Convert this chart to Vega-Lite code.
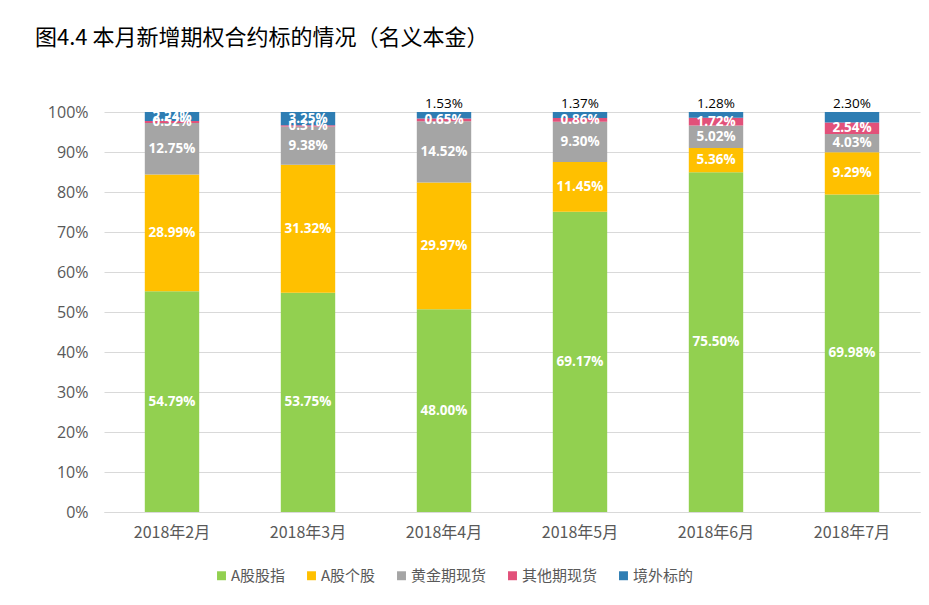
{
  "$schema": "https://vega.github.io/schema/vega-lite/v6.json",
  "width": 816,
  "height": 400,
  "autosize": "none",
  "padding": {"left": 104, "top": 112, "right": 9, "bottom": 93},
  "background": "white",
  "config": {
    "view": {"stroke": null},
    "font": "Noto Sans CJK SC",
    "axisY": {
      "labelFontSize": 16,
      "labelColor": "#595959",
      "labelPadding": 16,
      "ticks": false,
      "domain": false,
      "gridColor": "#D9D9D9",
      "labelFont": "Open Sans"
    }
  },
  "title": {
    "text": "图4.4 本月新增期权合约标的情况（名义本金）",
    "anchor": "start",
    "frame": "group",
    "dx": -69,
    "offset": 30,
    "baseline": "alphabetic",
    "fontSize": 22,
    "fontWeight": "normal",
    "color": "#000000",
    "font": "Noto Sans CJK SC"
  },
  "data": {
    "values": [
      {"month": "2018年2月", "series": "A股股指", "value": 54.79},
      {"month": "2018年2月", "series": "A股个股", "value": 28.99},
      {"month": "2018年2月", "series": "黄金期现货", "value": 12.75},
      {"month": "2018年2月", "series": "其他期现货", "value": 0.52},
      {"month": "2018年2月", "series": "境外标的", "value": 2.24},
      {"month": "2018年3月", "series": "A股股指", "value": 53.75},
      {"month": "2018年3月", "series": "A股个股", "value": 31.32},
      {"month": "2018年3月", "series": "黄金期现货", "value": 9.38},
      {"month": "2018年3月", "series": "其他期现货", "value": 0.31},
      {"month": "2018年3月", "series": "境外标的", "value": 3.25},
      {"month": "2018年4月", "series": "A股股指", "value": 48.00},
      {"month": "2018年4月", "series": "A股个股", "value": 29.97},
      {"month": "2018年4月", "series": "黄金期现货", "value": 14.52},
      {"month": "2018年4月", "series": "其他期现货", "value": 0.65},
      {"month": "2018年4月", "series": "境外标的", "value": 1.53},
      {"month": "2018年5月", "series": "A股股指", "value": 69.17},
      {"month": "2018年5月", "series": "A股个股", "value": 11.45},
      {"month": "2018年5月", "series": "黄金期现货", "value": 9.30},
      {"month": "2018年5月", "series": "其他期现货", "value": 0.86},
      {"month": "2018年5月", "series": "境外标的", "value": 1.37},
      {"month": "2018年6月", "series": "A股股指", "value": 75.50},
      {"month": "2018年6月", "series": "A股个股", "value": 5.36},
      {"month": "2018年6月", "series": "黄金期现货", "value": 5.02},
      {"month": "2018年6月", "series": "其他期现货", "value": 1.72},
      {"month": "2018年6月", "series": "境外标的", "value": 1.28},
      {"month": "2018年7月", "series": "A股股指", "value": 69.98},
      {"month": "2018年7月", "series": "A股个股", "value": 9.29},
      {"month": "2018年7月", "series": "黄金期现货", "value": 4.03},
      {"month": "2018年7月", "series": "其他期现货", "value": 2.54},
      {"month": "2018年7月", "series": "境外标的", "value": 2.30}
    ]
  },
  "transform": [
    {"calculate": "indexof(['A股股指','A股个股','黄金期现货','其他期现货','境外标的'], datum.series)", "as": "idx"},
    {"stack": "value", "groupby": ["month"], "sort": [{"field": "idx", "order": "ascending"}], "as": ["y0", "y1"], "offset": "normalize"},
    {"calculate": "(datum.y0 + datum.y1) / 2", "as": "ymid"},
    {"calculate": "format(datum.value, '.2f') + '%'", "as": "label"}
  ],
  "encoding": {
    "x": {
      "field": "month",
      "type": "nominal",
      "sort": null,
      "scale": {"paddingInner": 0.6, "paddingOuter": 0.3},
      "axis": {
        "title": null,
        "labelAngle": 0,
        "labelFontSize": 16,
        "labelColor": "#595959",
        "labelPadding": 12,
        "ticks": false,
        "domainColor": "#D9D9D9",
        "labelFont": "Noto Sans CJK SC"
      }
    }
  },
  "layer": [
    {
      "mark": {"type": "bar"},
      "encoding": {
        "y": {
          "field": "y0",
          "type": "quantitative",
          "scale": {"domain": [0, 1]},
          "axis": {"title": null, "format": ".0%", "values": [0, 0.1, 0.2, 0.3, 0.4, 0.5, 0.6, 0.7, 0.8, 0.9, 1]}
        },
        "y2": {"field": "y1"},
        "color": {
          "field": "series",
          "type": "nominal",
          "scale": {
            "domain": ["A股股指", "A股个股", "黄金期现货", "其他期现货", "境外标的"],
            "range": ["#92D050", "#FFC000", "#A5A5A5", "#E2517A", "#2E7DB3"]
          },
          "legend": {
            "title": null,
            "orient": "none",
            "direction": "horizontal",
            "legendX": 110,
            "legendY": 456,
            "symbolType": "square",
            "symbolSize": 80,
            "symbolStrokeWidth": 0,
            "labelFontSize": 15,
            "labelColor": "#595959",
            "labelOffset": 2,
            "columnPadding": 18,
            "labelFont": "Noto Sans CJK SC"
          }
        }
      }
    },
    {
      "transform": [
        {"filter": "!(datum.series == '境外标的' && indexof(['2018年4月','2018年5月','2018年6月','2018年7月'], datum.month) >= 0)"}
      ],
      "mark": {"type": "text", "color": "white", "fontWeight": "bold", "fontSize": 13.5, "font": "Open Sans", "baseline": "middle"},
      "encoding": {
        "y": {"field": "ymid", "type": "quantitative", "axis": {"title": null, "format": ".0%", "values": [0, 0.1, 0.2, 0.3, 0.4, 0.5, 0.6, 0.7, 0.8, 0.9, 1]}},
        "text": {"field": "label"}
      }
    },
    {
      "transform": [
        {"filter": "datum.series == '境外标的' && indexof(['2018年4月','2018年5月','2018年6月','2018年7月'], datum.month) >= 0"}
      ],
      "mark": {"type": "text", "color": "#000000", "fontSize": 13.5, "font": "Open Sans", "baseline": "bottom", "dy": -1},
      "encoding": {
        "y": {"field": "y1", "type": "quantitative", "axis": {"title": null, "format": ".0%", "values": [0, 0.1, 0.2, 0.3, 0.4, 0.5, 0.6, 0.7, 0.8, 0.9, 1]}},
        "text": {"field": "label"}
      }
    }
  ]
}
